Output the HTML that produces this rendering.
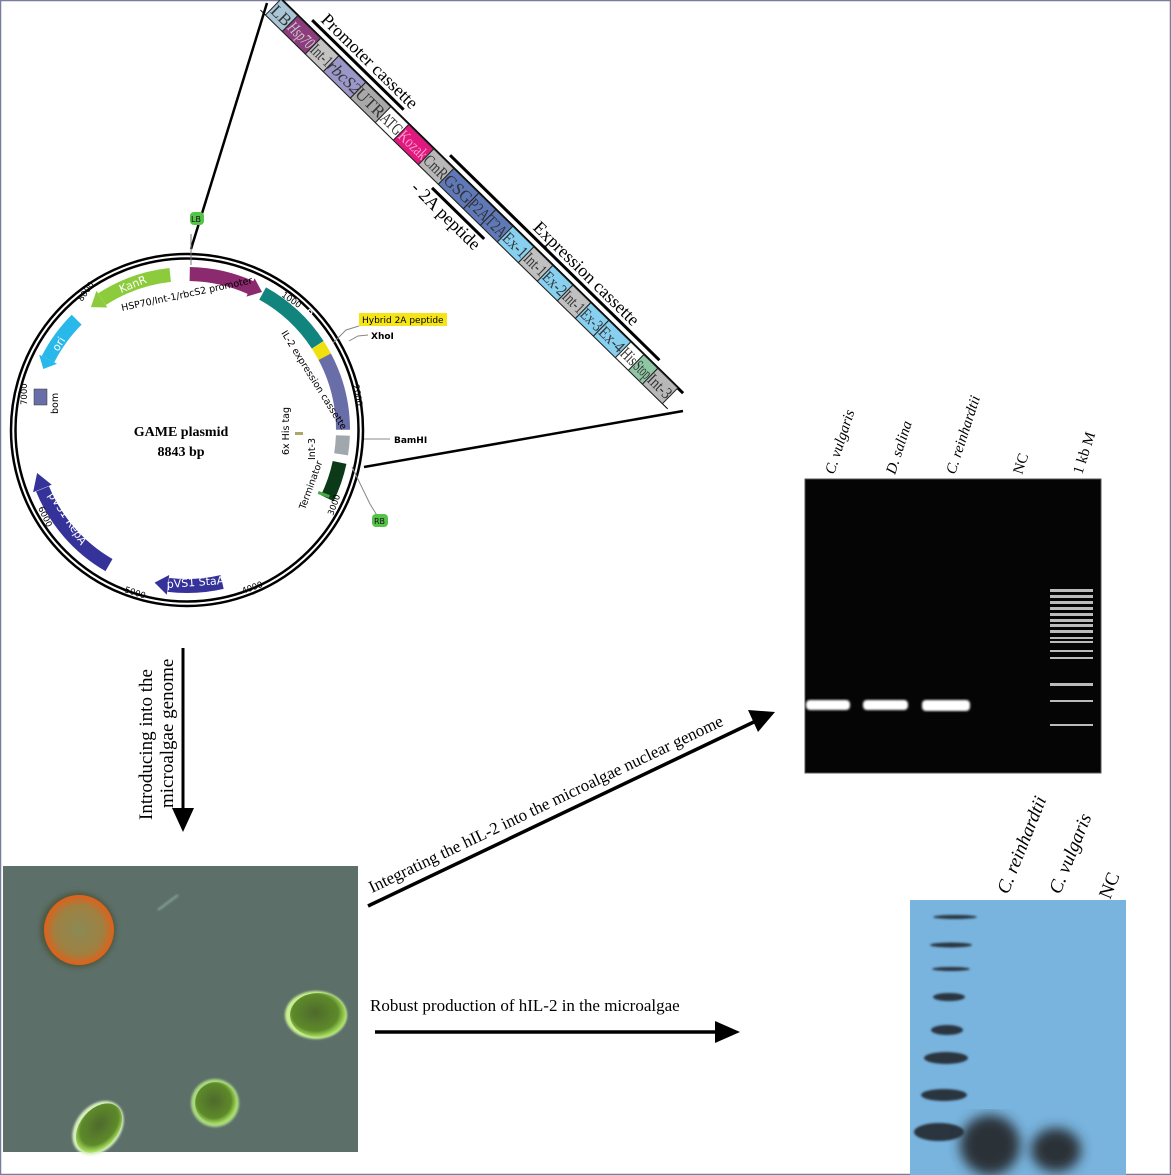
<!DOCTYPE html>
<html><head><meta charset="utf-8"><style>
html,body{margin:0;padding:0;background:#fff}
svg{display:block}
.s{font-family:"Liberation Serif",serif}
.a{font-family:"DejaVu Sans","Liberation Sans",sans-serif}
</style></head><body>
<svg width="1171" height="1175" viewBox="0 0 1171 1175" xmlns="http://www.w3.org/2000/svg">
<defs>
<radialGradient id="og" cx="50%" cy="50%" r="50%"><stop offset="0" stop-color="#8a8a55"/><stop offset="0.7" stop-color="#a08040"/><stop offset="1" stop-color="#e0601a"/></radialGradient>
<radialGradient id="gc" cx="45%" cy="45%" r="55%"><stop offset="0" stop-color="#4e6a2c"/><stop offset="0.75" stop-color="#5e8a2a"/><stop offset="1" stop-color="#a8e060"/></radialGradient>
<filter id="bl"><feGaussianBlur stdDeviation="2.5"/></filter>
<filter id="bl2"><feGaussianBlur stdDeviation="1"/></filter>
<filter id="bl3"><feGaussianBlur stdDeviation="6"/></filter>
</defs>
<rect x="0.5" y="0.5" width="1170" height="1174" fill="#fff" stroke="#7a7c9c" stroke-width="1.5"/>

<line x1="267" y1="3" x2="191" y2="249" stroke="#000" stroke-width="2.5"/>
<line x1="683" y1="411" x2="364" y2="467" stroke="#000" stroke-width="2.5"/>

<g transform="translate(271,5) rotate(44.4)">
 <line x1="-4" y1="-11" x2="566" y2="-11" stroke="#000" stroke-width="3"/>
 <line x1="-4" y1="11" x2="566" y2="11" stroke="#000" stroke-width="1"/>
 <g stroke="#222" stroke-width="1">
  <rect x="3" y="-11" width="23.6" height="22" fill="#a9c6d6"/>
  <rect x="26.6" y="-11" width="32.2" height="22" fill="#8c3b7c"/>
  <rect x="58.8" y="-11" width="25.2" height="22" fill="#c3c3c3"/>
  <rect x="84" y="-11" width="37.8" height="22" fill="#9b97c9"/>
  <rect x="121.8" y="-11" width="35" height="22" fill="#a9a9a9"/>
  <rect x="156.8" y="-11" width="25.2" height="22" fill="#fff"/>
  <rect x="182" y="-11" width="35" height="22" fill="#e0197f"/>
  <rect x="217" y="-11" width="28" height="22" fill="#b8b8b8"/>
  <rect x="245" y="-11" width="35" height="22" fill="#5f78b8"/>
  <rect x="280" y="-11" width="23.8" height="22" fill="#5f78b8"/>
  <rect x="303.8" y="-11" width="23.8" height="22" fill="#5f78b8"/>
  <rect x="327.6" y="-11" width="29.4" height="22" fill="#88d0f0"/>
  <rect x="357" y="-11" width="26.6" height="22" fill="#c0c0c0"/>
  <rect x="383.6" y="-11" width="28" height="22" fill="#88d0f0"/>
  <rect x="411.6" y="-11" width="25.2" height="22" fill="#c0c0c0"/>
  <rect x="436.8" y="-11" width="25.2" height="22" fill="#88d0f0"/>
  <rect x="462" y="-11" width="30.8" height="22" fill="#88d0f0"/>
  <rect x="492.8" y="-11" width="18.2" height="22" fill="#fff"/>
  <rect x="511" y="-11" width="19.6" height="22" fill="#8fc7a5"/>
  <rect x="530.6" y="-11" width="28" height="22" fill="#b8b8b8"/>
 </g>
 <g class="s" font-size="17" fill="#333" text-anchor="middle">
  <text x="14.8" y="6">LB</text><text x="42.7" y="6" fill="#ccc" font-style="italic" textLength="30" lengthAdjust="spacingAndGlyphs">Hsp70</text>
  <text x="71.4" y="6" textLength="24" lengthAdjust="spacingAndGlyphs">Int-1</text><text x="102.9" y="6" font-style="italic">rbcS2</text>
  <text x="139.3" y="6">UTR</text><text x="169.4" y="6" textLength="24" lengthAdjust="spacingAndGlyphs">ATG</text><text x="199.5" y="6" fill="#f9c" textLength="34" lengthAdjust="spacingAndGlyphs">Kozak</text>
  <text x="231" y="6" textLength="27" lengthAdjust="spacingAndGlyphs">CmR</text><text x="262.5" y="6" textLength="33" lengthAdjust="spacingAndGlyphs">GSG</text><text x="291.9" y="6" textLength="23" lengthAdjust="spacingAndGlyphs">P2A</text><text x="315.7" y="6" textLength="23" lengthAdjust="spacingAndGlyphs">T2A</text>
  <text x="342.3" y="6" textLength="28" lengthAdjust="spacingAndGlyphs">Ex-1</text><text x="370.3" y="6" textLength="25" lengthAdjust="spacingAndGlyphs">Int-1</text><text x="397.6" y="6" textLength="27" lengthAdjust="spacingAndGlyphs">Ex-2</text><text x="424.2" y="6" textLength="24" lengthAdjust="spacingAndGlyphs">Int-1</text>
  <text x="449.4" y="6" textLength="24" lengthAdjust="spacingAndGlyphs">Ex-3</text><text x="477.4" y="6" textLength="29" lengthAdjust="spacingAndGlyphs">Ex-4</text><text x="501.9" y="6" textLength="17" lengthAdjust="spacingAndGlyphs">His</text><text x="520.8" y="6" textLength="18" lengthAdjust="spacingAndGlyphs">Stop</text><text x="544.6" y="6" textLength="27" lengthAdjust="spacingAndGlyphs">Int-3</text>
 </g>
 <line x1="40" y1="-18" x2="168" y2="-18" stroke="#000" stroke-width="3"/>
 <line x1="233" y1="-18" x2="526" y2="-18" stroke="#000" stroke-width="3"/>
 <line x1="243" y1="18" x2="316" y2="18" stroke="#000" stroke-width="3"/>
 <text class="s" x="46" y="-23" font-size="18">Promoter cassette</text>
 <text class="s" x="343" y="-23" font-size="18">Expression cassette</text>
 <text class="s" x="228" y="34" font-size="18">- 2A peptide</text>
</g>

<g>
 <circle cx="187" cy="430" r="176" fill="none" stroke="#000" stroke-width="2.5"/>
 <circle cx="187" cy="430" r="171.5" fill="none" stroke="#000" stroke-width="2.5"/>
 <g fill="none" stroke-width="14">
  <circle cx="187" cy="430" r="156" stroke="#8b2a6e" stroke-dasharray="63 2000" transform="rotate(-89 187 430)"/>
  <circle cx="187" cy="430" r="156" stroke="#11847d" stroke-dasharray="76 2000" transform="rotate(-61 187 430)"/>
  <circle cx="187" cy="430" r="156" stroke="#f0e010" stroke-dasharray="14 2000" transform="rotate(-33 187 430)"/>
  <circle cx="187" cy="430" r="156" stroke="#6a6ea8" stroke-dasharray="76 2000" transform="rotate(-28 187 430)"/>
  <circle cx="187" cy="430" r="156" stroke="#a0a8ae" stroke-dasharray="19 2000" transform="rotate(2 187 430)"/>
  <circle cx="187" cy="430" r="156" stroke="#0c3a18" stroke-dasharray="38 2000" transform="rotate(12 187 430)"/>
  <circle cx="187" cy="430" r="156" stroke="#8ccb3c" stroke-dasharray="73 2000" transform="rotate(-123 187 430)"/>
  <circle cx="187" cy="430" r="156" stroke="#29b8ea" stroke-dasharray="49 2000" transform="rotate(-153 187 430)"/>
  <circle cx="187" cy="430" r="156" stroke="#35329a" stroke-dasharray="103 2000" transform="rotate(120 187 430)"/>
  <circle cx="187" cy="430" r="156" stroke="#35329a" stroke-dasharray="54 2000" transform="rotate(77 187 430)"/>
 </g>
 <polygon points="246.4,296.6 254.6,278.3 262,292" fill="#8b2a6e"/>
 <polygon points="107.4,307.5 96.5,290.7 90.9,307.1" fill="#8ccb3c"/>
 <polygon points="57,363.7 39.1,354.6 43.3,369" fill="#29b8ea"/>
 <polygon points="51.7,484.7 33.1,492.2 37.1,473" fill="#35329a"/>
 <polygon points="169.2,575 166.8,594.8 154.6,582.6" fill="#35329a"/>
 <rect x="34" y="389" width="13" height="16" fill="#6a6ea8" stroke="#333" stroke-width="0.5"/>
 <rect x="318" y="493" width="12" height="3" fill="#4a4" transform="rotate(20 324 494)"/>
 <rect x="295" y="432" width="8" height="3" fill="#aaa866"/>
 <g class="a" font-size="11" fill="#fff">
  <text x="121" y="293" transform="rotate(-22 121 293)">KanR</text>
  <text x="58" y="352" transform="rotate(-58 58 352)">ori</text>
  <text x="289" y="303" transform="rotate(38 289 303)">CmR</text>
  <text x="48" y="495" transform="rotate(57 48 495)">pVS1 RepA</text>
  <text x="167" y="588" transform="rotate(-4 167 588)">pVS1 StaA</text>
 </g>
 <g class="a" font-size="9.5" fill="#000">
  <text x="122" y="311" transform="rotate(-12 122 311)">HSP70/Int-1/rbcS2 promoter</text>
  <text x="281" y="333" transform="rotate(58 281 333)">IL-2 expression cassette</text>
  <text x="50" y="406" transform="rotate(-90 58 406)">bom</text>
  <text x="289" y="455" transform="rotate(-90 289 455)">6x His tag</text>
  <text x="315" y="460" transform="rotate(-90 315 460)">Int-3</text>
  <text x="305" y="510" transform="rotate(-70 305 510)">Terminator</text>
 </g>
 <g class="a" font-size="8.5" fill="#000">
  <text x="281" y="296" transform="rotate(35 281 296)">1000</text>
  <text x="353" y="385" transform="rotate(80 353 385)">2000</text>
  <text x="333" y="516" transform="rotate(-70 333 516)">3000</text>
  <text x="243" y="594" transform="rotate(-20 243 594)">4000</text>
  <text x="124" y="592" transform="rotate(18 124 592)">5000</text>
  <text x="38" y="508" transform="rotate(65 38 508)">6000</text>
  <text x="27" y="405" transform="rotate(-90 27 405)">7000</text>
  <text x="82" y="302" transform="rotate(-55 82 302)">8000</text>
 </g>
 <line x1="191" y1="234" x2="191" y2="265" stroke="#777" stroke-width="1"/>
 <rect x="190" y="212" width="14" height="13" rx="4" fill="#55c24a"/>
 <text class="a" x="191" y="222" font-size="8" fill="#111">LB</text>
 <path d="M352,467 L370,504 L378,517" fill="none" stroke="#888"/>
 <rect x="372" y="514" width="16" height="13" rx="4" fill="#55c24a"/>
 <text class="a" x="374" y="524" font-size="8" fill="#111">RB</text>
 <path d="M333,343 L346,330 L359,326" fill="none" stroke="#888"/>
 <rect x="359" y="313" width="88" height="13" fill="#f5e518"/>
 <text class="a" x="362" y="323" font-size="9" fill="#000">Hybrid 2A peptide</text>
 <path d="M349,341 L358,336 L368,335" fill="none" stroke="#888"/>
 <text class="a" x="371" y="339" font-size="9" font-weight="bold">XhoI</text>
 <line x1="364" y1="439" x2="390" y2="439" stroke="#888"/>
 <text class="a" x="394" y="443" font-size="9" font-weight="bold">BamHI</text>
 <text class="s" x="181" y="436" font-size="14" font-weight="bold" text-anchor="middle">GAME plasmid</text>
 <text class="s" x="181" y="456" font-size="14" font-weight="bold" text-anchor="middle">8843 bp</text>
</g>

<line x1="183" y1="648" x2="183" y2="812" stroke="#000" stroke-width="3"/>
<polygon points="172,808 194,808 183,832" fill="#000"/>
<text class="s" font-size="19" transform="translate(152,820) rotate(-90)">Introducing into the</text>
<text class="s" font-size="19" transform="translate(173,808) rotate(-90)">microalgae genome</text>

<line x1="368" y1="906" x2="758" y2="720" stroke="#000" stroke-width="3.5"/>
<polygon points="775,712 748,710 758,732" fill="#000"/>
<text class="s" font-size="17" transform="translate(372,893) rotate(-25.5)">Integrating the hIL-2 into the microalgae nuclear genome</text>

<line x1="375" y1="1032" x2="718" y2="1032" stroke="#000" stroke-width="3.5"/>
<polygon points="715,1021 740,1032 715,1043" fill="#000"/>
<text class="s" x="370" y="1011" font-size="17">Robust production of hIL-2 in the microalgae</text>

<rect x="3" y="866" width="355" height="286" fill="#5c6f69"/>
<g>
 <circle cx="78" cy="930" r="38" fill="#4d5a40" filter="url(#bl)"/>
 <circle cx="79" cy="930" r="35" fill="url(#og)"/>
 <ellipse cx="316" cy="1015" rx="31" ry="24" fill="#c8f090" filter="url(#bl2)"/>
 <ellipse cx="318" cy="1015" rx="28" ry="22" fill="url(#gc)"/>
 <ellipse cx="98" cy="1128" rx="22" ry="30" transform="rotate(40 98 1128)" fill="#d8f0c0" filter="url(#bl2)"/>
 <ellipse cx="99" cy="1128" rx="19" ry="28" transform="rotate(40 99 1128)" fill="url(#gc)"/>
 <circle cx="215" cy="1103" r="24" fill="#a8d880" filter="url(#bl2)"/>
 <circle cx="216" cy="1103" r="21" fill="url(#gc)"/>
 <line x1="158" y1="910" x2="178" y2="895" stroke="#8aa8a0" stroke-width="2" filter="url(#bl2)"/>
</g>

<rect x="805" y="479" width="296" height="294" fill="#050505" stroke="#555" stroke-width="1"/>
<g filter="url(#bl2)" fill="#fff">
 <rect x="806" y="700" width="44" height="10" rx="4"/>
 <rect x="863" y="700" width="45" height="10" rx="4"/>
 <rect x="922" y="700" width="48" height="11" rx="4"/>
</g>
<g fill="#bbb">
 <rect x="1050" y="589" width="43" height="3"/><rect x="1050" y="595" width="43" height="3"/>
 <rect x="1050" y="601" width="43" height="3"/><rect x="1050" y="607" width="43" height="3"/>
 <rect x="1050" y="613" width="43" height="3"/><rect x="1050" y="619" width="43" height="3"/>
 <rect x="1050" y="624" width="43" height="3"/><rect x="1050" y="630" width="43" height="3"/>
 <rect x="1050" y="637" width="43" height="2"/><rect x="1050" y="641" width="43" height="2"/>
 <rect x="1050" y="650" width="43" height="2"/><rect x="1050" y="657" width="43" height="2"/>
 <rect x="1050" y="683" width="43" height="3"/><rect x="1050" y="700" width="43" height="2"/>
 <rect x="1050" y="724" width="43" height="2"/>
</g>
<g class="s" font-size="15" font-style="italic">
 <text transform="translate(834,475) rotate(-72)">C. vulgaris</text>
 <text transform="translate(895,475) rotate(-72)">D. salina</text>
 <text transform="translate(955,475) rotate(-72)">C. reinhardtii</text>
 <text transform="translate(1022,475) rotate(-72)" font-style="normal">NC</text>
 <text transform="translate(1082,475) rotate(-72)" font-style="normal">1 kb M</text>
</g>

<rect x="910" y="900" width="216" height="275" fill="#79b4de"/>
<g fill="#2a3440" filter="url(#bl2)">
 <ellipse cx="955" cy="917" rx="22" ry="2"/>
 <ellipse cx="951" cy="945" rx="21" ry="2.5"/>
 <ellipse cx="951" cy="969" rx="19" ry="2"/>
 <ellipse cx="949" cy="997" rx="16" ry="4"/>
 <ellipse cx="947" cy="1030" rx="16" ry="5"/>
 <ellipse cx="946" cy="1058" rx="22" ry="6"/>
 <ellipse cx="944" cy="1095" rx="23" ry="6"/>
 <ellipse cx="939" cy="1132" rx="25" ry="9"/>
</g>
<g fill="#2a3038" filter="url(#bl3)">
 <ellipse cx="990" cy="1145" rx="30" ry="30"/>
 <ellipse cx="1056" cy="1150" rx="25" ry="22"/>
</g>
<g class="s" font-size="19" font-style="italic">
 <text transform="translate(1008,895) rotate(-68)">C. reinhardtii</text>
 <text transform="translate(1060,895) rotate(-68)">C. vulgaris</text>
 <text transform="translate(1110,900) rotate(-68)" font-style="normal">NC</text>
</g>
</svg>
</body></html>
